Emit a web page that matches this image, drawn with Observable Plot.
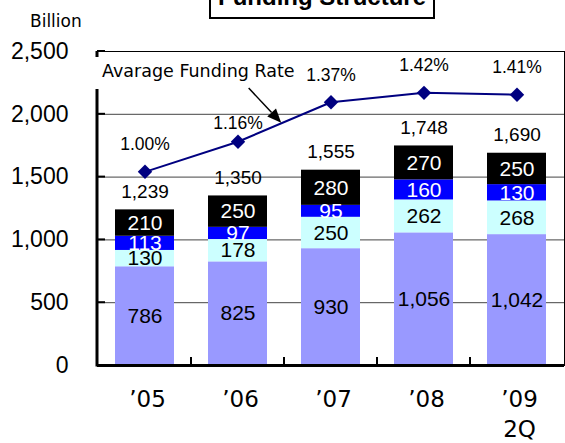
<!DOCTYPE html>
<html>
<head>
<meta charset="utf-8">
<script src="https://cdn.jsdelivr.net/npm/d3@7"></script>
<script src="https://cdn.jsdelivr.net/npm/@observablehq/plot@0.6"></script>
<style>
  body { margin: 0; background: #fff; }
  #wrap { position: relative; width: 565px; height: 443px; overflow: hidden; background: #fff; }
  #head { position: relative; height: 30px; }
  #title { position: absolute; left: 209px; top: -17px; width: 222px; height: 32px;
           border: 2px solid #000; font: bold 24px "Liberation Sans", Arial, sans-serif;
           line-height: 24px; text-align: center; white-space: nowrap; }
  #unit { position: absolute; left: 30px; top: 11px; font: 17px "DejaVu Sans", sans-serif; line-height: 20px; }
  #chart svg { display: block; }
</style>
</head>
<body>
<div id="wrap">
  <div id="head">
    <div id="title">Funding Structure</div>
    <div id="unit">Billion</div>
  </div>
  <div id="chart"></div>
</div>
<script>
// ---- data ----
const categories = ["'05", "'06", "'07", "'08", "'09"];
const xLabels = ["’05", "’06", "’07", "’08", "’09\n2Q"];
const seriesNames = ["Layer 1", "Layer 2", "Layer 3", "Layer 4"];
const seriesColors = ["#9999ff", "#ccffff", "#0000ff", "#000000"];
const layer1 = [786, 825, 930, 1056, 1042];
const layer2 = [130, 178, 250, 262, 268];
const layer3 = [113, 97, 95, 160, 130];
const layer4 = [210, 250, 280, 270, 250];
const totals = [1239, 1350, 1555, 1748, 1690];
const rates = [1.00, 1.16, 1.37, 1.42, 1.41];
const rateLabel = "Avarage Funding Rate";
const yTicks = [0, 500, 1000, 1500, 2000, 2500];
const rateAxisDomain = [-0.03, 1.64]; // secondary (hidden) axis for the rate line

// ---- tables ----
const layers = [layer1, layer2, layer3, layer4];
const rows = [];
layers.forEach((vals, s) => vals.forEach((v, i) => rows.push({cat: categories[i], series: seriesNames[s], value: v, dark: s >= 2})));
const totRows = categories.map((c, i) => ({cat: c, total: totals[i]}));
const rateToY = d3.scaleLinear().domain(rateAxisDomain).range([yTicks[0], yTicks[yTicks.length - 1]]);
const rateRows = categories.map((c, i) => ({cat: c, rate: rates[i], v: rateToY(rates[i])}));
const fmt = d3.format(",");
const NUM = "Liberation Sans, Arial, sans-serif";

const plot = Plot.plot({
  width: 565, height: 413,
  marginTop: 21, marginBottom: 78, marginLeft: 97, marginRight: 1,
  style: {background: "transparent", fontFamily: NUM, overflow: "visible"},
  x: {domain: categories, padding: 0, axis: null},
  y: {domain: [0, 2500], axis: null},
  color: {domain: seriesNames, range: seriesColors},
  marks: [
    Plot.ruleY(yTicks.filter(t => t > 0 && t < 2500), {stroke: "#444", strokeWidth: 1}),
    Plot.frame({stroke: "#000", strokeWidth: 1}),
    Plot.barY(rows, {x: "cat", y: "value", fill: "series", insetLeft: 17, insetRight: 17}),
    Plot.text(rows, Plot.stackY({x: "cat", y: "value", text: d => d.dark ? "" : fmt(d.value), fill: "#000", fontSize: 21})),
    Plot.text(rows, Plot.stackY({x: "cat", y: "value", text: d => d.dark ? fmt(d.value) : "", fill: "#fff", fontSize: 21})),
    Plot.text(totRows, {x: "cat", y: "total", text: d => fmt(d.total), dy: -18, fontSize: 19, fill: "#000"}),
    Plot.ruleY([0], {stroke: "#000", strokeWidth: 3}),
    Plot.line(rateRows, {x: "cat", y: "v", stroke: "#000080", strokeWidth: 2}),
    Plot.dot(rateRows, {x: "cat", y: "v", symbol: "diamond2", r: 6.5, fill: "#000080", stroke: "none"}),
    Plot.text(rateRows, {x: "cat", y: "v", text: d => d.rate.toFixed(2) + "%", dy: -27, fontSize: 17.5, fill: "#000", filter: d => d.cat !== "'06"}),
    Plot.text(rateRows, {x: "cat", y: "v", text: d => d.rate.toFixed(2) + "%", dy: -18, fontSize: 17.5, fill: "#000", filter: d => d.cat === "'06"}),
    Plot.text(yTicks, {y: d => d, text: d => fmt(d), frameAnchor: "left", textAnchor: "end", dx: -29, fontSize: 23, fill: "#000"}),
    Plot.text(categories, {x: d => d, text: (d, i) => xLabels[i], frameAnchor: "bottom", lineAnchor: "top", dy: 20.5, dx: 2.5,
      lineHeight: 1.3, fontSize: 23, fontFamily: "DejaVu Sans, sans-serif", fill: "#000", ariaLabel: "x-labels"})
  ]
});

document.getElementById("chart").appendChild(plot);

// ---- axis details and annotation, positioned through the plot's scales ----
const sxo = plot.scale("x"), syo = plot.scale("y");
const X = v => sxo.apply ? sxo.apply(v) : d3.scaleBand(sxo.domain, sxo.range)(v);
const Y = v => syo.apply ? syo.apply(v) : d3.scaleLinear(syo.domain, syo.range)(v);
const bw = sxo.bandwidth;
const x0 = sxo.range[0];
const svg = d3.select(plot);

// x labels: wider letter spacing, extra gap after the leading quote mark
svg.selectAll('g[aria-label="x-labels"] text').each(function () {
  const txt = d3.select(this).attr("letter-spacing", "4px");
  const first = txt.select("tspan").empty() ? txt : txt.select("tspan");
  const s = first.text();
  first.text(null);
  first.append("tspan").text(s[0]);
  first.append("tspan").attr("dx", 9).text(s.slice(1));
});

const g = svg.append("g");
// left axis line
g.append("line").attr("x1", x0).attr("x2", x0).attr("y1", Y(0) + 1.5).attr("y2", Y(2500))
  .attr("stroke", "#000").attr("stroke-width", 3);
// inside y ticks
yTicks.forEach(t => g.append("line").attr("x1", x0).attr("x2", x0 + 8).attr("y1", Y(t)).attr("y2", Y(t))
  .attr("stroke", "#000").attr("stroke-width", 2));
// x ticks at band boundaries
categories.slice(1).forEach(c => g.append("line").attr("x1", X(c)).attr("x2", X(c)).attr("y1", Y(0)).attr("y2", Y(0) - 8)
  .attr("stroke", "#000").attr("stroke-width", 2));

// annotation label with white box
const annotBaseline = 2293;
const box = g.append("rect").attr("fill", "#fff");
const label = g.append("text").attr("x", x0 + 5).attr("y", Y(annotBaseline)).attr("text-anchor", "start")
  .attr("font-family", "DejaVu Sans, sans-serif").attr("font-size", 17.5).attr("fill", "#000").text(rateLabel);
const bb = label.node().getBBox();
box.attr("x", bb.x - 7).attr("y", bb.y - 4).attr("width", bb.width + 11).attr("height", bb.height + 12);

// arrow from label to the line between '06 and '07
const cx = c => X(c) + bw / 2;
const t = 0.47;
const ax1 = cx("'06") + 0.12 * bw, ay1 = Y(2205);
const ax2 = cx("'06") + t * (cx("'07") - cx("'06"));
const ay2 = Y(rateRows[1].v + t * (rateRows[2].v - rateRows[1].v));
const ang = Math.atan2(ay2 - ay1, ax2 - ax1);
const hl = 14, hw = 6;
const bx = ax2 - hl * Math.cos(ang), by = ay2 - hl * Math.sin(ang);
g.append("line").attr("x1", ax1).attr("y1", ay1).attr("x2", bx).attr("y2", by).attr("stroke", "#000").attr("stroke-width", 1.5);
g.append("path").attr("d", `M${ax2},${ay2}L${bx + hw * Math.sin(ang)},${by - hw * Math.cos(ang)}L${bx - hw * Math.sin(ang)},${by + hw * Math.cos(ang)}Z`)
  .attr("fill", "#000");
</script>
</body>
</html>
